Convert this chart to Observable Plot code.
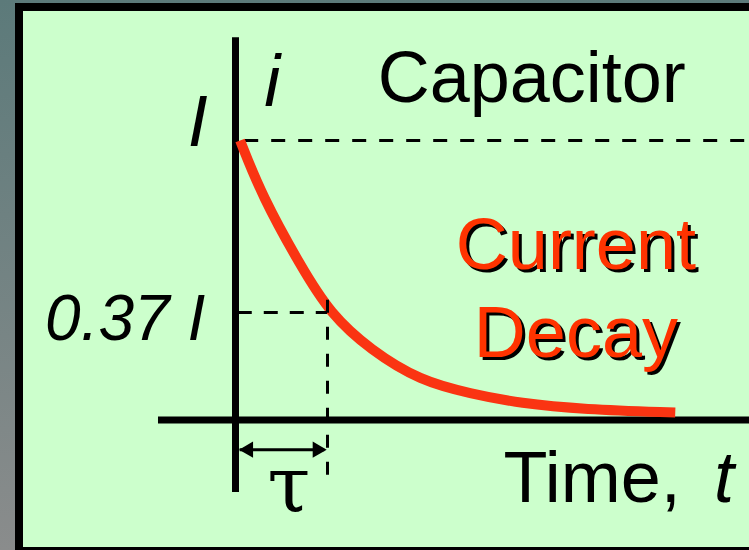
<!DOCTYPE html>
<html>
<head>
<meta charset="utf-8">
<script src="https://cdn.jsdelivr.net/npm/d3@7"></script>
<script src="https://cdn.jsdelivr.net/npm/@observablehq/plot@0.6"></script>
<style>
  html, body { margin: 0; padding: 0; }
  body {
    width: 749px; height: 550px; overflow: hidden; position: relative;
    background: linear-gradient(to bottom, #5c7a7a, #8a8c8c);
  }
  #panel {
    position: absolute; left: 15px; top: 3px; width: 800px; height: 536px;
    border: 8px solid #000; background: #ccffcc;
  }
  #chart { position: absolute; left: 0; top: 0; }
  #chart svg { background: transparent; overflow: visible; }
  .decay text { text-shadow: 3px 3px 0 #000; }
</style>
</head>
<body>
<div id="panel"></div>
<div id="chart"></div>
<script>
// Time in units of tau, current in units of I
const curveT = [0.05, 0.29, 0.71, 1.03, 1.47, 2.01, 2.55, 3.10, 3.78, 4.78];
const curveI = [1.00, 0.80, 0.55, 0.38, 0.25, 0.14, 0.095, 0.059, 0.038, 0.027];
const levelI = 1;          // initial current I
const level37 = 0.385;     // 0.37 I level (as drawn)
const tau = 1;             // time constant
const titleText = "Capacitor";
const decayLines = ["Current", "Decay"];
const yLabel = "i";
const xLabel = ["Time,", "t"];
const tickLabels = ["I", "0.37 I"];
const tauLabel = "τ";

const curve = curveT.map((t, k) => ({t, i: curveI[k]}));
const sans = "'Liberation Sans', Arial, Helvetica, sans-serif";
const serif = "'DejaVu Serif', 'Liberation Serif', serif";

const plot = Plot.plot({
  width: 749, height: 550,
  margin: 0,
  x: {domain: [0, tau], range: [235, 327], axis: null},
  y: {domain: [0, levelI], range: [419.5, 140], axis: null},
  style: {background: "transparent"},
  marks: [
    // axes
    Plot.ruleX([{t: 0, a: -0.259, b: 1.368}], {x: "t", y1: "a", y2: "b", stroke: "#000", strokeWidth: 7}),
    Plot.ruleY([{i: 0, a: -0.837, b: 5.8}], {y: "i", x1: "a", x2: "b", stroke: "#000", strokeWidth: 7}),
    // dashed guides
    Plot.ruleY([{i: levelI, a: 0.1, b: 5.8}], {y: "i", x1: "a", x2: "b", stroke: "#000", strokeWidth: 3, strokeDasharray: "14,13"}),
    // curve
    Plot.line(curve, {x: "t", y: "i", curve: "basis", stroke: "#fa3412", strokeWidth: 10, strokeLinecap: "butt"}),
    Plot.ruleY([{i: level37, a: 0.03, b: tau}], {y: "i", x1: "a", x2: "b", stroke: "#000", strokeWidth: 3, strokeDasharray: "14,12"}),
    Plot.ruleX([{t: tau, a: 0.428, b: -0.224}], {x: "t", y1: "a", y2: "b", stroke: "#000", strokeWidth: 3, strokeDasharray: "13,14"}),
    // tau double arrow
    Plot.ruleY([{i: -0.106, a: 0.05, b: 0.97}], {y: "i", x1: "a", x2: "b", stroke: "#000", strokeWidth: 3}),
    Plot.dot([{t: 0.14, i: -0.106, r: -90}, {t: 0.89, i: -0.106, r: 90}],
      {x: "t", y: "i", rotate: "r", symbol: "triangle", r: 6, fill: "#000", stroke: "none"}),
    Plot.text([tauLabel], {x: () => 0.58, y: () => -0.33, text: d => d, lineAnchor: "bottom",
      fontFamily: serif, fontSize: 78, fill: "#000"}),
    // labels
    Plot.text([tickLabels[0]], {x: () => -0.41, y: () => 0.979, text: d => d, lineAnchor: "bottom",
      fontFamily: sans, fontSize: 72, fontStyle: "italic", fill: "#000"}),
    Plot.text([tickLabels[1]], {x: () => -1.2, y: () => 0.288, text: d => d, lineAnchor: "bottom",
      fontFamily: sans, fontSize: 64, fontStyle: "italic", fill: "#000"}),
    Plot.text([yLabel], {x: () => 0.40, y: () => 1.125, text: d => d, lineAnchor: "bottom",
      fontFamily: sans, fontSize: 72, fontStyle: "italic", fill: "#000"}),
    Plot.text([titleText], {x: () => 3.22, y: () => 1.136, text: d => d, lineAnchor: "bottom",
      fontFamily: sans, fontSize: 72, fill: "#000"}),
    Plot.text([xLabel[0]], {x: () => 2.913, y: () => -0.295, text: d => d, lineAnchor: "bottom", textAnchor: "start",
      fontFamily: sans, fontSize: 72, fill: "#000"}),
    Plot.text([xLabel[1]], {x: () => 5.2, y: () => -0.295, text: d => d, lineAnchor: "bottom", textAnchor: "start",
      fontFamily: sans, fontSize: 72, fontStyle: "italic", fill: "#000"}),
    // "Current Decay" with shadow
    Plot.text(decayLines, {x: () => 3.70, y: (d, k) => [0.541, 0.224][k], text: d => d, lineAnchor: "bottom",
      fontFamily: sans, fontSize: 72, fill: "#ff3300", className: "decay"})
  ]
});
document.getElementById("chart").appendChild(plot);
</script>
</body>
</html>
